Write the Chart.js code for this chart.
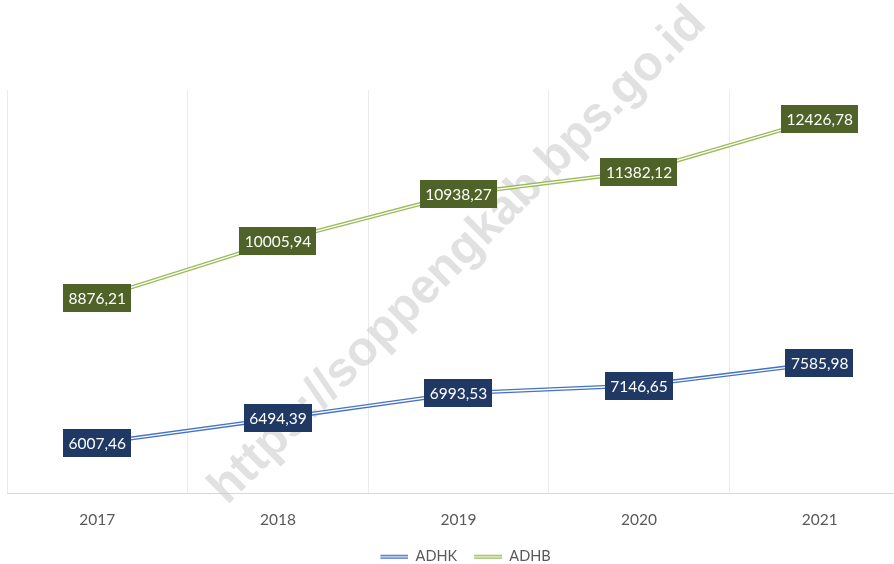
<!DOCTYPE html>
<html>
<head>
<meta charset="utf-8">
<script src="https://cdn.jsdelivr.net/npm/chart.js@4.4.0/dist/chart.umd.min.js"></script>
<style>
  html, body { margin: 0; padding: 0; background: #ffffff; overflow: hidden; }
  #wrap { width: 894px; height: 564px; position: relative; overflow: hidden; }
</style>
</head>
<body>
<div id="wrap"><canvas id="c" width="914" height="564"></canvas></div>
<script>
const categories = ['2017', '2018', '2019', '2020', '2021'];
const adhk = [6007.46, 6494.39, 6993.53, 7146.65, 7585.98];
const adhb = [8876.21, 10005.94, 10938.27, 11382.12, 12426.78];
const seriesNames = ['ADHK', 'ADHB'];
const watermarkText = 'https://soppengkab.bps.go.id';

const lineColors = ['#4472C4', '#9BBB59'];
const boxColors = ['#203864', '#4F6228'];
const LABEL_FONT = '15.5px Lato, "Open Sans", sans-serif';

function fmt(v) { return v.toFixed(2).replace('.', ','); }

function legendIcon(color) {
  const cv = document.createElement('canvas');
  cv.width = 42; cv.height = 6;
  const c = cv.getContext('2d');
  c.fillStyle = color;
  c.fillRect(14, 1, 28, 4);
  c.fillStyle = '#ffffff';
  c.fillRect(14, 2.4, 28, 1.2);
  return cv;
}

const watermarkPlugin = {
  id: 'watermark',
  beforeDatasetsDraw(chart) {
    const ctx = chart.ctx;
    ctx.save();
    ctx.translate(458, 256);
    ctx.rotate(-Math.PI / 4);
    let size = 40;
    ctx.font = 'bold ' + size + 'px "Liberation Sans", Arial, sans-serif';
    const w = ctx.measureText(watermarkText).width;
    size = size * 680 / w;
    ctx.font = 'bold ' + size + 'px "Liberation Sans", Arial, sans-serif';
    ctx.fillStyle = 'rgba(205,205,205,0.6)';
    ctx.textAlign = 'center';
    ctx.textBaseline = 'middle';
    ctx.fillText(watermarkText, 0, 0);
    ctx.restore();
  }
};

const doubleLinePlugin = {
  id: 'doubleLine',
  afterDatasetsDraw(chart) {
    const ctx = chart.ctx;
    chart.data.datasets.forEach((ds, i) => {
      const meta = chart.getDatasetMeta(i);
      ctx.save();
      ctx.strokeStyle = '#ffffff';
      ctx.lineWidth = 1.3;
      ctx.lineJoin = 'round';
      ctx.beginPath();
      meta.data.forEach((p, j) => { if (j === 0) ctx.moveTo(p.x, p.y); else ctx.lineTo(p.x, p.y); });
      ctx.stroke();
      ctx.restore();
    });
    chart.data.datasets.forEach((ds, i) => {
      const meta = chart.getDatasetMeta(i);
      ctx.save();
      ctx.font = LABEL_FONT;
      ctx.textAlign = 'center';
      ctx.textBaseline = 'middle';
      meta.data.forEach((p, j) => {
        const txt = fmt(ds.data[j]);
        const tw = ctx.measureText(txt).width;
        const bw = tw + 11, bh = 28;
        ctx.fillStyle = boxColors[i];
        ctx.fillRect(Math.round(p.x - bw / 2), Math.round(p.y - bh / 2), Math.round(bw), bh);
        ctx.fillStyle = '#ffffff';
        ctx.fillText(txt, p.x, p.y + 1);
      });
      ctx.restore();
    });
  }
};

new Chart(document.getElementById('c'), {
  type: 'line',
  data: {
    labels: categories,
    datasets: [
      { label: seriesNames[0], data: adhk, borderColor: lineColors[0], borderWidth: 4, pointRadius: 0, tension: 0 },
      { label: seriesNames[1], data: adhb, borderColor: lineColors[1], borderWidth: 4, pointRadius: 0, tension: 0 }
    ]
  },
  options: {
    responsive: false,
    animation: false,
    devicePixelRatio: 1,
    layout: { padding: { left: 7, right: 4, top: 90, bottom: -10 } },
    scales: {
      x: {
        offset: true,
        grid: { offset: true, color: '#ebebeb', drawTicks: false, lineWidth: 1 },
        border: { color: '#d9d9d9' },
        ticks: { color: '#595959', font: { size: 15.5, family: 'Lato, "Open Sans", sans-serif' }, padding: 17 }
      },
      y: {
        display: false,
        min: 5000,
        max: 13000
      }
    },
    plugins: {
      tooltip: { enabled: false },
      legend: {
        position: 'bottom',
        labels: {
          usePointStyle: true,
          pointStyleWidth: 42,
          padding: 3,
          color: '#595959',
          font: { size: 14.5, family: 'Lato, "Open Sans", sans-serif' },
          generateLabels(chart) {
            return chart.data.datasets.map((ds, i) => ({
              text: ds.label,
              pointStyle: legendIcon(lineColors[i]),
              fillStyle: lineColors[i],
              strokeStyle: lineColors[i],
              lineWidth: 0,
              hidden: false,
              datasetIndex: i,
              fontColor: '#595959'
            }));
          }
        }
      }
    }
  },
  plugins: [watermarkPlugin, doubleLinePlugin]
});
</script>
</body>
</html>
